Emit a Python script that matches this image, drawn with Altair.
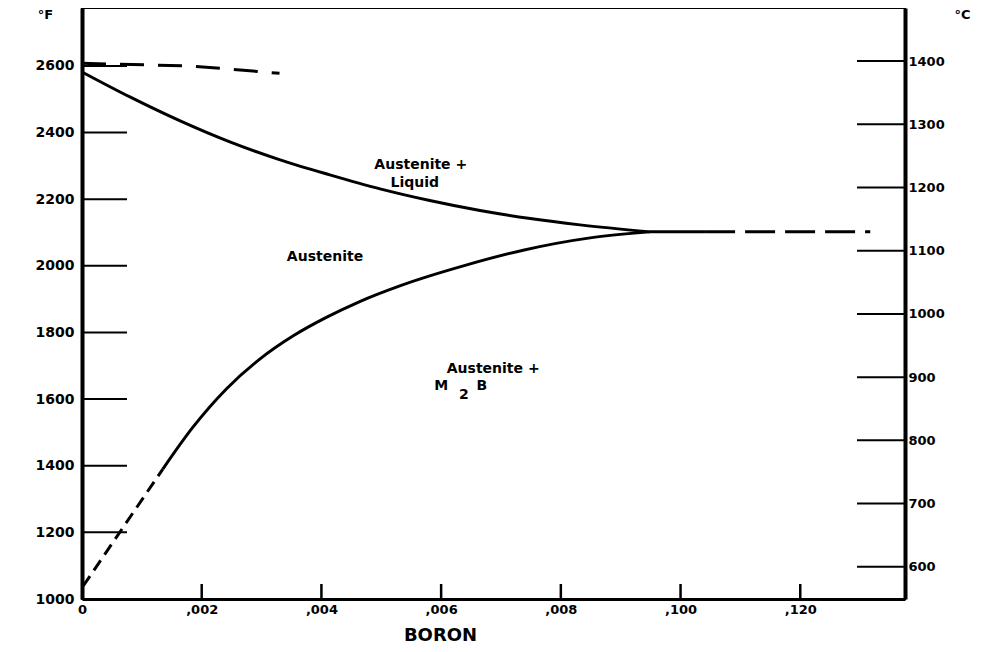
import altair as alt
import pandas as pd

# ---- data ----
upper_b = [0.0, 0.00080, 0.00164, 0.00247, 0.00331, 0.00414, 0.00498, 0.00581, 0.00665, 0.00749, 0.00832, 0.00949]
upper_f = [2582, 2507, 2435, 2372, 2318, 2273, 2231, 2196, 2166, 2142, 2123, 2102]

lower_b = [0.00135, 0.00185, 0.00242, 0.00297, 0.00353, 0.00409, 0.00464, 0.00531, 0.00643, 0.00737, 0.00849, 0.00949]
lower_f = [1390, 1515, 1632, 1720, 1790, 1846, 1893, 1940, 2003, 2047, 2084, 2102]

eut_solid_b = [0.00949, 0.01041]
eut_solid_f = [2102, 2102]

top_dash_b = [0.0, 0.0018, 0.0025, 0.0033]
top_dash_f = [2608, 2600, 2590, 2578]

low_dash_b = [0.00002, 0.00135]
low_dash_f = [1039, 1390]

eut_dash_b = [0.01041, 0.01317]
eut_dash_f = [2102, 2102]

f_ticks = [1000, 1200, 1400, 1600, 1800, 2000, 2200, 2400, 2600]
c_ticks = [600, 700, 800, 900, 1000, 1100, 1200, 1300, 1400]
x_ticks = [0, 0.002, 0.004, 0.006, 0.008, 0.010, 0.012]
x_tick_labels = ["0", ",002", ",004", ",006", ",008", ",100", ",120"]

label_text = ["Austenite +", "Liquid", "Austenite", "Austenite +", "M", "2", "B"]
label_b = [0.00566, 0.00556, 0.00406, 0.00687, 0.00600, 0.00638, 0.00668]
label_f = [2303, 2249, 2027, 1690, 1639, 1612, 1639]

# ---- tables ----
solid = pd.DataFrame({
    "boron": upper_b + lower_b + eut_solid_b,
    "temp": upper_f + lower_f + eut_solid_f,
    "curve": ["upper"] * len(upper_b) + ["lower"] * len(lower_b) + ["eut"] * len(eut_solid_b),
})
dashed = pd.DataFrame({
    "boron": top_dash_b + low_dash_b + eut_dash_b,
    "temp": top_dash_f + low_dash_f + eut_dash_f,
    "curve": ["top"] * len(top_dash_b) + ["low"] * len(low_dash_b) + ["eutd"] * len(eut_dash_b),
})
labels = pd.DataFrame({"boron": label_b, "temp": label_f, "text": label_text})
fdf = pd.DataFrame({"temp": f_ticks[1:]})
cdf = pd.DataFrame({"c": c_ticks})
xdf = pd.DataFrame({"boron": x_ticks[1:]})

W, H = 823, 591
FONT = "DejaVu Sans"

xscale = alt.Scale(domain=[0, 0.01375], nice=False, zero=False)
fscale = alt.Scale(domain=[1000, 2774], nice=False, zero=False)
cscale = alt.Scale(domain=[549, 1484], nice=False, zero=False)

label_js = "[" + ",".join("'" + s + "'" for s in x_tick_labels) + "]"

xaxis = alt.Axis(
    values=x_ticks, labelExpr=label_js + "[round(datum.value/0.002)]",
    ticks=False, grid=False, domainWidth=3, domainColor="black",
    labelFont=FONT, labelFontSize=13, labelFontWeight="bold", labelColor="black",
    labelPadding=4, labelFlush=False,
    title="BORON", titleFont=FONT, titleFontSize=18, titleFontWeight="bold", titleColor="black",
    titleX=358, titleY=27, titleBaseline="top", titleAlign="center",
)
faxis = alt.Axis(
    values=f_ticks, format="d", ticks=False, grid=False, domainWidth=4, domainColor="black",
    labelFont=FONT, labelFontSize=14, labelFontWeight="bold", labelColor="black",
    labelPadding=8, labelFlush=False,
    title="°F", titleAngle=0, titleX=-37, titleY=6, titleBaseline="middle", titleAlign="center",
    titleFont=FONT, titleFontSize=13, titleFontWeight="bold", titleColor="black",
)
caxis = alt.Axis(
    orient="right", values=c_ticks, format="d", ticks=False, grid=False, domainWidth=4, domainColor="black",
    labelFont=FONT, labelFontSize=13, labelFontWeight="bold", labelColor="black",
    labelPadding=3, labelFlush=False,
    title="°C", titleAngle=0, titleX=57, titleY=6, titleBaseline="middle", titleAlign="center",
    titleFont=FONT, titleFontSize=13, titleFontWeight="bold", titleColor="black",
)

X = alt.X("boron:Q", scale=xscale, axis=xaxis)
Y = alt.Y("temp:Q", scale=fscale, axis=faxis)

solid_layer = alt.Chart(solid).mark_line(color="black", strokeWidth=3, interpolate="monotone").encode(
    x=X, y=Y, detail="curve:N"
)
dashed_layer = alt.Chart(dashed).mark_line(color="black", strokeWidth=3).encode(
    x=X, y=Y,
    strokeDash=alt.StrokeDash("curve:N", scale=alt.Scale(domain=["top", "low", "eutd"],
                                                         range=[[24, 14], [12, 7], [30, 10]]), legend=None),
)
text_layer = alt.Chart(labels).mark_text(font=FONT, fontSize=14, fontWeight="bold", color="black").encode(
    x=X, y=Y, text="text:N"
)
fticks_layer = alt.Chart(fdf).mark_rule(color="black", strokeWidth=2).encode(
    y=Y, x=alt.value(0), x2=alt.value(45)
)
xticks_layer = alt.Chart(xdf).mark_rule(color="black", strokeWidth=2.5).encode(
    x=X, y=alt.value(H - 15), y2=alt.value(H)
)

f_layer = alt.layer(solid_layer, dashed_layer, text_layer, fticks_layer, xticks_layer)

c_layer = alt.Chart(cdf).mark_rule(color="black", strokeWidth=2).encode(
    y=alt.Y("c:Q", scale=cscale, axis=caxis), x=alt.value(W - 48), x2=alt.value(W)
)

chart = alt.layer(f_layer, c_layer).resolve_scale(y="independent").properties(
    width=W, height=H,
    padding={"left": 74, "top": 0, "right": 87, "bottom": 52},
    autosize=alt.AutoSizeParams(type="none"),
    background="white",
).configure_view(stroke="black", strokeWidth=2)

chart.save("out.html", embed_options={"renderer": "svg", "actions": False})
